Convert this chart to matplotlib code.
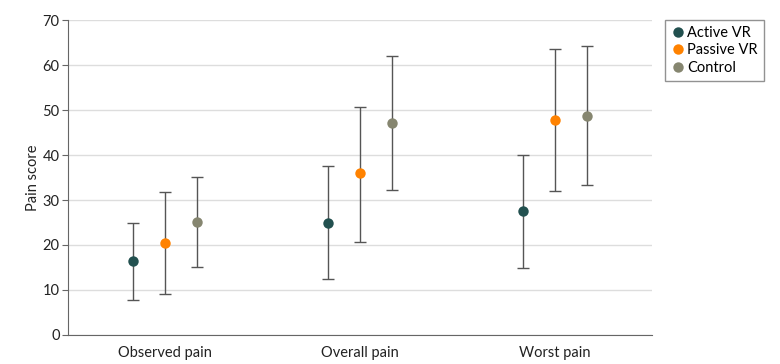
"""Pain scores by group: mean with error bars."""

import numpy as np
import matplotlib
matplotlib.use('Agg')
import matplotlib.pyplot as plt

plt.rcParams['font.family'] = ['Lato', 'DejaVu Sans']

# Data
categories = ['Observed pain', 'Overall pain', 'Worst pain']
groups = ['Active VR', 'Passive VR', 'Control']
colors = ['#22504f', '#ff8200', '#868670']

means = {
    'Active VR': [16.4, 25.0, 27.6],
    'Passive VR': [20.5, 35.9, 47.8],
    'Control': [25.1, 47.1, 48.7],
}
lower = {
    'Active VR': [7.7, 12.4, 14.8],
    'Passive VR': [9.0, 20.7, 31.9],
    'Control': [15.1, 32.2, 33.3],
}
upper = {
    'Active VR': [25.0, 37.6, 39.9],
    'Passive VR': [31.8, 50.7, 63.6],
    'Control': [35.1, 62.0, 64.3],
}

fig = plt.figure(figsize=(7.8, 3.64), dpi=100)
ax = fig.add_axes([0.0872, 0.0797, 0.7488, 0.8653])

x = np.arange(len(categories))
offsets = [-0.165, 0.0, 0.165]

for g, c, off in zip(groups, colors, offsets):
    m = np.array(means[g])
    lo = m - np.array(lower[g])
    hi = np.array(upper[g]) - m
    ax.errorbar(x + off, m, yerr=[lo, hi], fmt='none', ecolor='#555555',
                elinewidth=1.0, capsize=4, capthick=1.0, zorder=2)
    ax.plot(x + off, m, 'o', color=c, markersize=7.5, markeredgewidth=0,
            label=g, zorder=3)

ax.set_xlim(-0.5, 2.5)
ax.set_ylim(0, 70)
ax.set_yticks(range(0, 71, 10))
ax.set_xticks(x)
ax.set_xticklabels(categories)
ax.set_ylabel('Pain score', fontsize=10.5, color='#222222', labelpad=2)

ax.grid(axis='y', color='#dddddd', linewidth=1.0)
ax.set_axisbelow(True)
for s in ['top', 'right']:
    ax.spines[s].set_visible(False)
for s in ['left', 'bottom']:
    ax.spines[s].set_color('#666666')
ax.tick_params(axis='y', length=4, color='#666666', labelsize=10.5, labelcolor='#222222', pad=2)
ax.tick_params(axis='x', length=0, pad=8, labelsize=10.5, labelcolor='#222222')

leg = fig.legend(loc='upper left', bbox_to_anchor=(0.853, 0.945), frameon=True,
                 fancybox=False, edgecolor='#777777', fontsize=10.5,
                 handletextpad=0.1, handlelength=1.0, borderpad=0.4,
                 labelspacing=0.25, borderaxespad=0)
leg.get_frame().set_linewidth(1.0)

fig.savefig('out.png', dpi=100)
